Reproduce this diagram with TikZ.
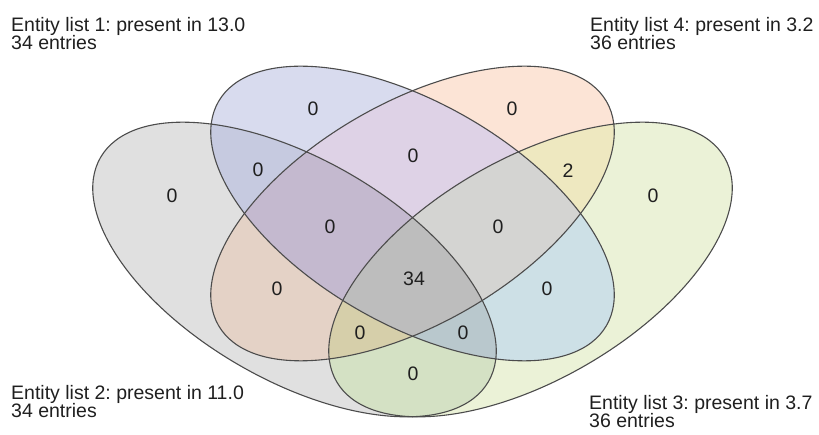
\documentclass[tikz,border=0pt]{standalone}
\usepackage{fontspec}
\setmainfont{Liberation Sans}
\frenchspacing

% colours of the fifteen regions
\definecolor{r1}{RGB}{216,219,238}
\definecolor{r2}{RGB}{224,224,224}
\definecolor{r3}{RGB}{235,242,215}
\definecolor{r4}{RGB}{252,228,214}
\definecolor{r12}{RGB}{198,202,224}
\definecolor{r13}{RGB}{205,224,230}
\definecolor{r14}{RGB}{222,210,230}
\definecolor{r23}{RGB}{212,225,196}
\definecolor{r24}{RGB}{228,210,198}
\definecolor{r34}{RGB}{238,232,192}
\definecolor{r123}{RGB}{185,200,205}
\definecolor{r124}{RGB}{196,185,207}
\definecolor{r134}{RGB}{212,212,210}
\definecolor{r234}{RGB}{214,207,170}
\definecolor{r1234}{RGB}{189,189,189}

% the four sets, before rotation
\newcommand{\ovalone}{(c1) ellipse [x radius=224, y radius=110.5]}
\newcommand{\ovaltwo}{(c2) ellipse [x radius=224, y radius=110.5]}
\newcommand{\ovalthree}{(c3) ellipse [x radius=224, y radius=110.5]}
\newcommand{\ovalfour}{(c4) ellipse [x radius=224, y radius=110.5]}

\begin{document}
\begin{tikzpicture}[x=1pt, y=1pt,
  in1/.style={rotate around={-30:(c1)}},
  in2/.style={rotate around={-30:(c2)}},
  in3/.style={rotate around={30:(c3)}},
  in4/.style={rotate around={30:(c4)}},
  rim/.style={draw=black!70, line width=1.1pt},
  count/.style={font=\fontsize{19.5}{18.3}\selectfont, inner sep=0pt, text=black!88},
  listlabel/.style={font=\fontsize{19.5}{18.3}\selectfont, align=left, anchor=north west,
    inner sep=0pt, text=black!88}
]
  \useasboundingbox (0,0) rectangle (819,434);

  % centres of the four sets
  \coordinate (c1) at (412.5,220.5);
  \coordinate (c2) at (294.5,164.5);
  \coordinate (c3) at (530.5,164.5);
  \coordinate (c4) at (412.5,220.5);

  % single sets
  \fill[r2, in2] \ovaltwo;
  \fill[r3, in3] \ovalthree;
  \fill[r1, in1] \ovalone;
  \fill[r4, in4] \ovalfour;

  % pairs
  \begin{scope} \clip[in1] \ovalone; \fill[r12, in2] \ovaltwo; \end{scope}
  \begin{scope} \clip[in1] \ovalone; \fill[r13, in3] \ovalthree; \end{scope}
  \begin{scope} \clip[in1] \ovalone; \fill[r14, in4] \ovalfour; \end{scope}
  \begin{scope} \clip[in2] \ovaltwo; \fill[r23, in3] \ovalthree; \end{scope}
  \begin{scope} \clip[in2] \ovaltwo; \fill[r24, in4] \ovalfour; \end{scope}
  \begin{scope} \clip[in3] \ovalthree; \fill[r34, in4] \ovalfour; \end{scope}

  % triples
  \begin{scope} \clip[in1] \ovalone; \clip[in2] \ovaltwo; \fill[r123, in3] \ovalthree; \end{scope}
  \begin{scope} \clip[in1] \ovalone; \clip[in2] \ovaltwo; \fill[r124, in4] \ovalfour; \end{scope}
  \begin{scope} \clip[in1] \ovalone; \clip[in3] \ovalthree; \fill[r134, in4] \ovalfour; \end{scope}
  \begin{scope} \clip[in2] \ovaltwo; \clip[in3] \ovalthree; \fill[r234, in4] \ovalfour; \end{scope}

  % all four
  \begin{scope}
    \clip[in1] \ovalone; \clip[in2] \ovaltwo; \clip[in3] \ovalthree;
    \fill[r1234, in4] \ovalfour;
  \end{scope}

  % outlines
  \draw[rim, in2] \ovaltwo;
  \draw[rim, in4] \ovalfour;
  \draw[rim, in3] \ovalthree;
  \draw[rim, in1] \ovalone;

  % region counts
  \node[count] (n1) at (313,325) {0};
  \node[count] (n4) at (512,325) {0};
  \node[count] (n14) at (413,278) {0};
  \node[count] (n12) at (258,264) {0};
  \node[count] (n34) at (568,263) {2};
  \node[count] (n2) at (172,238) {0};
  \node[count] (n3) at (653,238) {0};
  \node[count] (n124) at (330,207) {0};
  \node[count] (n134) at (498,207) {0};
  \node[count] (n1234) at (414,155) {34};
  \node[count] (n24) at (277,145) {0};
  \node[count] (n13) at (547,145) {0};
  \node[count] (n234) at (360,101) {0};
  \node[count] (n123) at (463,101) {0};
  \node[count] (n23) at (413,60) {0};

  % list captions
  \node[listlabel] (list1) at (11,417) {Entity list 1: present in 13.0\\34 entries};
  \node[listlabel] (list4) at (590,417) {Entity list 4: present in 3.2\\36 entries};
  \node[listlabel] (list2) at (11,49) {Entity list 2: present in 11.0\\34 entries};
  \node[listlabel] (list3) at (589,39) {Entity list 3: present in 3.7\\36 entries};
\end{tikzpicture}
\end{document}
